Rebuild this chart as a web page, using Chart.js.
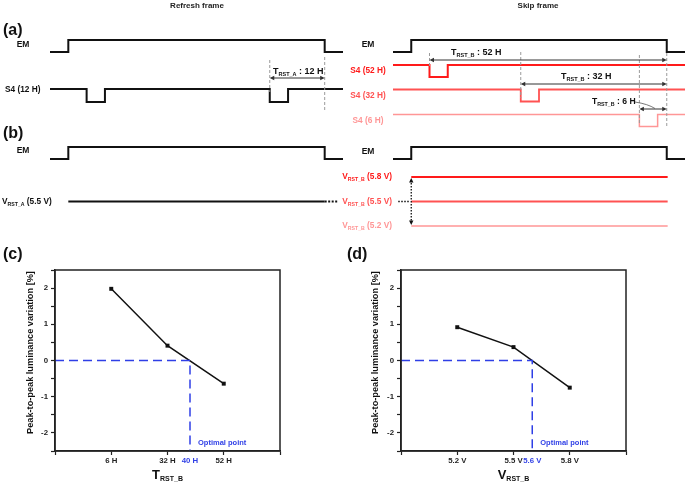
<!DOCTYPE html>
<html><head><meta charset="utf-8">
<script src="https://cdn.jsdelivr.net/npm/chart.js@4/dist/chart.umd.min.js"></script>
<style>
html,body{margin:0;padding:0;background:#fff;}
#wrap{position:relative;width:685px;height:485px;overflow:hidden;background:#fff;}
canvas{position:absolute;}
</style></head><body>
<div id="wrap">
<canvas id="ta" width="343" height="240" style="left:0;top:0"></canvas>
<canvas id="tb" width="350" height="240" style="left:335px;top:0"></canvas>
<canvas id="pc" width="340" height="245" style="left:0;top:240px"></canvas>
<canvas id="pd" width="345" height="245" style="left:340px;top:240px"></canvas>
</div>
<script>
// ---------- data ----------
// timing diagrams: time in H, relative to the EM falling edge
const timeWindow = [-60, 4];
const emHighInterval = [-56, 0];
const pulseWidthH = 4;
const refreshPulseStarts = [-52, -12];
const refreshRstH = 12;
const skipRstH = [52, 32, 6];
const skipPulseStarts = [-52, -32, -6];
const vrstA = 5.5;
const vrstB = [5.8, 5.5, 5.2];

// (c) luminance variation vs T_RST_B
const tLabels = ['6 H', '32 H', '52 H'];
const tHours = [6, 32, 52];
const tVariation = [1.98, 0.41, -0.64];
const tOptimal = 40;
const tOptimalLabel = '40 H';
// (d) luminance variation vs V_RST_B
const vLabels = ['5.2 V', '5.5 V', '5.8 V'];
const vVolts = [5.2, 5.5, 5.8];
const vVariation = [0.92, 0.37, -0.75];
const vOptimal = 5.6;
const vOptimalLabel = '5.6 V';
const yRange = [-2.5, 2.5];

// ---------- style ----------
const FONT = '"Liberation Sans", Arial, Helvetica, sans-serif';
const RED = ['#ff1a1a', '#ff5252', '#ff9696'];
const BLUE = '#2f3fe6';
const INK = '#111';

function txt(ctx, s, x, y, size, color, align) {
  ctx.font = 'bold ' + size + 'px ' + FONT;
  ctx.fillStyle = color; ctx.textAlign = align || 'left'; ctx.textBaseline = 'middle';
  ctx.fillText(s, x, y);
}
function subTxt(ctx, x, y, main, sub, rest, size, subSize, color, align) {
  ctx.textBaseline = 'middle';
  ctx.font = 'bold ' + size + 'px ' + FONT; const w1 = ctx.measureText(main).width;
  const w3 = rest ? ctx.measureText(rest).width : 0;
  ctx.font = 'bold ' + subSize + 'px ' + FONT; const w2 = ctx.measureText(sub).width;
  const tot = w1 + w2 + w3;
  let x0 = x;
  if (align === 'center') x0 = x - tot / 2; else if (align === 'right') x0 = x - tot;
  ctx.fillStyle = color; ctx.textAlign = 'left';
  ctx.font = 'bold ' + size + 'px ' + FONT; ctx.fillText(main, x0, y);
  ctx.font = 'bold ' + subSize + 'px ' + FONT; ctx.fillText(sub, x0 + w1, y + size * 0.32);
  if (rest) { ctx.font = 'bold ' + size + 'px ' + FONT; ctx.fillText(rest, x0 + w1 + w2, y); }
}
function vDash(ctx, x, y1, y2) {
  ctx.save(); ctx.strokeStyle = '#9a9a9a'; ctx.lineWidth = 1; ctx.setLineDash([3, 2]);
  ctx.beginPath(); ctx.moveTo(x, y1); ctx.lineTo(x, y2); ctx.stroke(); ctx.restore();
}
function head(ctx, x, y, dx, dy) {
  const L = 4.5, W = 2.2;
  ctx.beginPath(); ctx.moveTo(x, y);
  ctx.lineTo(x - dx * L - dy * W, y - dy * L + dx * W);
  ctx.lineTo(x - dx * L + dy * W, y - dy * L - dx * W);
  ctx.closePath(); ctx.fill();
}
function hArrow(ctx, x1, x2, y) {
  ctx.save(); ctx.strokeStyle = '#333'; ctx.fillStyle = '#333'; ctx.lineWidth = 1;
  ctx.beginPath(); ctx.moveTo(x1 + 2, y); ctx.lineTo(x2 - 2, y); ctx.stroke();
  head(ctx, x1, y, -1, 0); head(ctx, x2, y, 1, 0); ctx.restore();
}

function stepPoints(intervals, baseY, activeY) {
  const pts = [{x: timeWindow[0], y: baseY}];
  intervals.forEach(([a, b]) => {
    pts.push({x: a, y: baseY}, {x: a, y: activeY}, {x: b, y: activeY}, {x: b, y: baseY});
  });
  pts.push({x: timeWindow[1], y: baseY});
  return pts;
}
function lineDs(data, color, width, dash) {
  return {data, borderColor: color, borderWidth: width, borderDash: dash || [], pointRadius: 0,
          fill: false, tension: 0, borderJoinStyle: 'miter', borderCapStyle: 'butt'};
}
const vRowY = v => 201.5 - (v - 5.5) * 82;

function timingChart(id, padLeft, datasets, draw) {
  return new Chart(document.getElementById(id), {
    type: 'line',
    data: {datasets},
    options: {
      responsive: false, animation: false, devicePixelRatio: 1,
      layout: {padding: {left: padLeft, right: 0, top: 0, bottom: 0}},
      scales: {
        x: {type: 'linear', display: false, min: timeWindow[0], max: timeWindow[1]},
        y: {type: 'linear', display: false, min: 0, max: 240, reverse: true}
      },
      plugins: {legend: {display: false}, tooltip: {enabled: false}}
    },
    plugins: [{id: 'anno', afterDatasetsDraw(chart) { draw(chart, chart.ctx, t => chart.scales.x.getPixelForValue(t)); }}]
  });
}

// ---------- (a)/(b) left: refresh frame ----------
timingChart('ta', 50, [
  lineDs(stepPoints([emHighInterval], 52, 40), INK, 2),
  lineDs(stepPoints(refreshPulseStarts.map(s => [s, s + pulseWidthH]), 89, 102), INK, 2),
  lineDs(stepPoints([emHighInterval], 159, 147), INK, 2),
  lineDs([{x: emHighInterval[0], y: vRowY(vrstA)}, {x: 0, y: vRowY(vrstA)}], INK, 2),
  lineDs([{x: 0, y: vRowY(vrstA)}, {x: 2.8, y: vRowY(vrstA)}], INK, 2, [2, 1.5])
], (chart, ctx, X) => {
  txt(ctx, 'Refresh frame', 197, 6, 8, '#222', 'center');
  txt(ctx, '(a)', 3, 31, 16, INK);
  txt(ctx, 'EM', 23, 45, 8.5, INK, 'center');
  txt(ctx, 'S4 (' + refreshRstH + ' H)', 5, 90, 8.3, INK);
  vDash(ctx, X(-refreshRstH), 60, 92);
  vDash(ctx, X(0), 57, 110);
  hArrow(ctx, X(-refreshRstH), X(0), 78);
  subTxt(ctx, 273, 72, 'T', 'RST_A', ' : ' + refreshRstH + ' H', 9, 5.5, INK, 'left');
  txt(ctx, '(b)', 3, 134, 16, INK);
  txt(ctx, 'EM', 23, 151, 8.5, INK, 'center');
  subTxt(ctx, 2, vRowY(vrstA), 'V', 'RST_A', ' (' + vrstA.toFixed(1) + ' V)', 8.3, 5.2, INK, 'left');
});

// ---------- (a)/(b) right: skip frame ----------
const OX = 335;
const skipDs = [
  lineDs(stepPoints([emHighInterval], 52, 40), INK, 2),
  lineDs(stepPoints([emHighInterval], 159, 147), INK, 2)
];
const s4Rows = [65, 89.5, 114.5];
const s4Widths = [2, 1.8, 1.5];
skipPulseStarts.forEach((s, i) => {
  skipDs.push(lineDs(stepPoints([[s, s + pulseWidthH]], s4Rows[i], s4Rows[i] + 12), RED[i], s4Widths[i]));
});
vrstB.forEach((v, i) => {
  skipDs.push(lineDs([{x: emHighInterval[0], y: vRowY(v)}, {x: 0.2, y: vRowY(v)}], RED[i], s4Widths[i]));
});
timingChart('tb', 393 - OX, skipDs, (chart, ctx, X) => {
  txt(ctx, 'Skip frame', 538 - OX, 6, 8, '#222', 'center');
  txt(ctx, 'EM', 368 - OX, 45, 8.5, INK, 'center');
  skipRstH.forEach((h, i) => txt(ctx, 'S4 (' + h + ' H)', 368 - OX, s4Rows[i] + 6, 8.3, RED[i], 'center'));
  vDash(ctx, X(skipPulseStarts[0]), 53, 66);
  vDash(ctx, X(skipPulseStarts[1]), 52, 98);
  vDash(ctx, X(skipPulseStarts[2]), 55, 124);
  vDash(ctx, X(0), 53, 128);
  const arrowY = [60, 84, 109];
  skipPulseStarts.forEach((s, i) => hArrow(ctx, X(s), X(0), arrowY[i]));
  subTxt(ctx, 451 - OX, 53, 'T', 'RST_B', ' : ' + skipRstH[0] + ' H', 9, 5.5, INK, 'left');
  subTxt(ctx, 561 - OX, 77, 'T', 'RST_B', ' : ' + skipRstH[1] + ' H', 9, 5.5, INK, 'left');
  subTxt(ctx, 592 - OX, 102, 'T', 'RST_B', ' : ' + skipRstH[2] + ' H', 8.6, 5.3, INK, 'left');
  ctx.save(); ctx.strokeStyle = '#555'; ctx.lineWidth = 0.8;
  ctx.beginPath(); ctx.moveTo(635 - OX, 102); ctx.quadraticCurveTo(648 - OX, 104, 655 - OX, 108.5); ctx.stroke(); ctx.restore();
  txt(ctx, 'EM', 368 - OX, 152, 8.5, INK, 'center');
  vrstB.forEach((v, i) => subTxt(ctx, 392 - OX, vRowY(v), 'V', 'RST_B', ' (' + v.toFixed(1) + ' V)', 8.3, 5.2, RED[i], 'right'));
  const xs = X(emHighInterval[0]);
  ctx.save(); ctx.strokeStyle = INK; ctx.fillStyle = INK; ctx.lineWidth = 1.5; ctx.setLineDash([1.5, 1.5]);
  ctx.beginPath(); ctx.moveTo(xs - 13, vRowY(vrstA)); ctx.lineTo(xs - 2, vRowY(vrstA)); ctx.stroke();
  ctx.lineWidth = 1.3;
  ctx.beginPath(); ctx.moveTo(xs, vRowY(vrstB[0]) + 3); ctx.lineTo(xs, vRowY(vrstB[2]) - 3); ctx.stroke();
  ctx.setLineDash([]);
  head(ctx, xs, vRowY(vrstB[0]) + 1, 0, -1); head(ctx, xs, vRowY(vrstB[2]) - 1, 0, 1);
  ctx.restore();
});

// ---------- (c)/(d) plots ----------
function optIndex(vals, opt) {
  for (let i = 0; i < vals.length - 1; i++) {
    if (opt >= vals[i] && opt <= vals[i + 1]) return i + 1 + (opt - vals[i]) / (vals[i + 1] - vals[i]);
  }
  return 0;
}
const Y_AXIS_W = 22, X_AXIS_H = 20;
function makePlot(id, cfg) {
  const optPos = optIndex(cfg.axisVals, cfg.optimal);
  const isOpt = v => Math.abs(v - optPos) < 1e-6;
  return new Chart(document.getElementById(id), {
    type: 'line',
    data: {datasets: [
      {data: [{x: 0, y: 0}, {x: optPos, y: 0}, {x: optPos, y: yRange[0]}], borderColor: BLUE, borderWidth: 1.5,
       borderDash: [9, 5], pointRadius: 0, tension: 0, fill: false},
      {data: cfg.values.map((v, i) => ({x: i + 1, y: v})), borderColor: INK, borderWidth: 1.5, tension: 0, fill: false,
       pointStyle: 'rect', pointRadius: 2.8, pointBackgroundColor: INK, pointBorderColor: INK, pointBorderWidth: 0}
    ]},
    options: {
      responsive: false, animation: false, devicePixelRatio: 1,
      layout: {padding: {left: cfg.left - Y_AXIS_W, right: cfg.right, top: 30, bottom: 34 - X_AXIS_H}},
      plugins: {legend: {display: false}, tooltip: {enabled: false}},
      scales: {
        x: {type: 'linear', min: 0, max: cfg.labels.length + 1,
            afterFit(s) { s.height = X_AXIS_H; },
            afterBuildTicks(s) {
              const t = [];
              for (let i = 0; i <= cfg.labels.length + 1; i++) t.push({value: i});
              t.push({value: optPos}); s.ticks = t;
            },
            ticks: {autoSkip: false, maxRotation: 0, minRotation: 0, padding: 1,
                    font: {family: FONT, size: 7.8, weight: 'bold'},
                    color: c => (c.tick && isOpt(c.tick.value)) ? BLUE : '#222',
                    callback: v => isOpt(v) ? cfg.optLabel : (cfg.labels[Math.round(v) - 1] || '')},
            grid: {drawOnChartArea: false, tickLength: 4, color: '#222', tickWidth: 1.2,
                   tickColor: c => (c.tick && isOpt(c.tick.value)) ? 'rgba(0,0,0,0)' : '#222'},
            border: {display: true, color: '#222', width: 1.5}},
        y: {type: 'linear', min: yRange[0], max: yRange[1],
            afterFit(s) { s.width = Y_AXIS_W; },
            ticks: {stepSize: 0.5, autoSkip: false, padding: 3, font: {family: FONT, size: 7.8, weight: 'bold'}, color: '#222',
                    callback: v => Number.isInteger(v) ? String(v) : ''},
            grid: {drawOnChartArea: false, tickLength: 4, color: '#222', tickWidth: 1.2},
            border: {display: true, color: '#222', width: 1.5}}
      }
    },
    plugins: [{id: 'deco', afterDraw(chart) {
      const ctx = chart.ctx, a = chart.chartArea;
      ctx.save(); ctx.strokeStyle = '#222'; ctx.lineWidth = 1.5;
      ctx.strokeRect(a.left, a.top, a.right - a.left, a.bottom - a.top); ctx.restore();
      txt(ctx, cfg.letter, cfg.letterX, 15, 16, INK);
      ctx.save(); ctx.translate(cfg.yTitleX, (a.top + a.bottom) / 2 - 8); ctx.rotate(-Math.PI / 2);
      txt(ctx, 'Peak-to-peak luminance variation [%]', 0, 0, 9.2, INK, 'center'); ctx.restore();
      subTxt(ctx, (a.left + a.right) / 2, 235, cfg.titleMain, 'RST_B', '', 13, 7, INK, 'center');
      const xo = chart.scales.x.getPixelForValue(optPos);
      txt(ctx, 'Optimal point', xo + 8, 203, 7.5, BLUE, 'left');
    }}]
  });
}
makePlot('pc', {labels: tLabels, axisVals: tHours, values: tVariation, optimal: tOptimal, optLabel: tOptimalLabel,
                left: 55, right: 60, letter: '(c)', letterX: 3, yTitleX: 30, titleMain: 'T'});
makePlot('pd', {labels: vLabels, axisVals: vVolts, values: vVariation, optimal: vOptimal, optLabel: vOptimalLabel,
                left: 61, right: 59, letter: '(d)', letterX: 7, yTitleX: 35, titleMain: 'V'});
</script>
</body></html>
